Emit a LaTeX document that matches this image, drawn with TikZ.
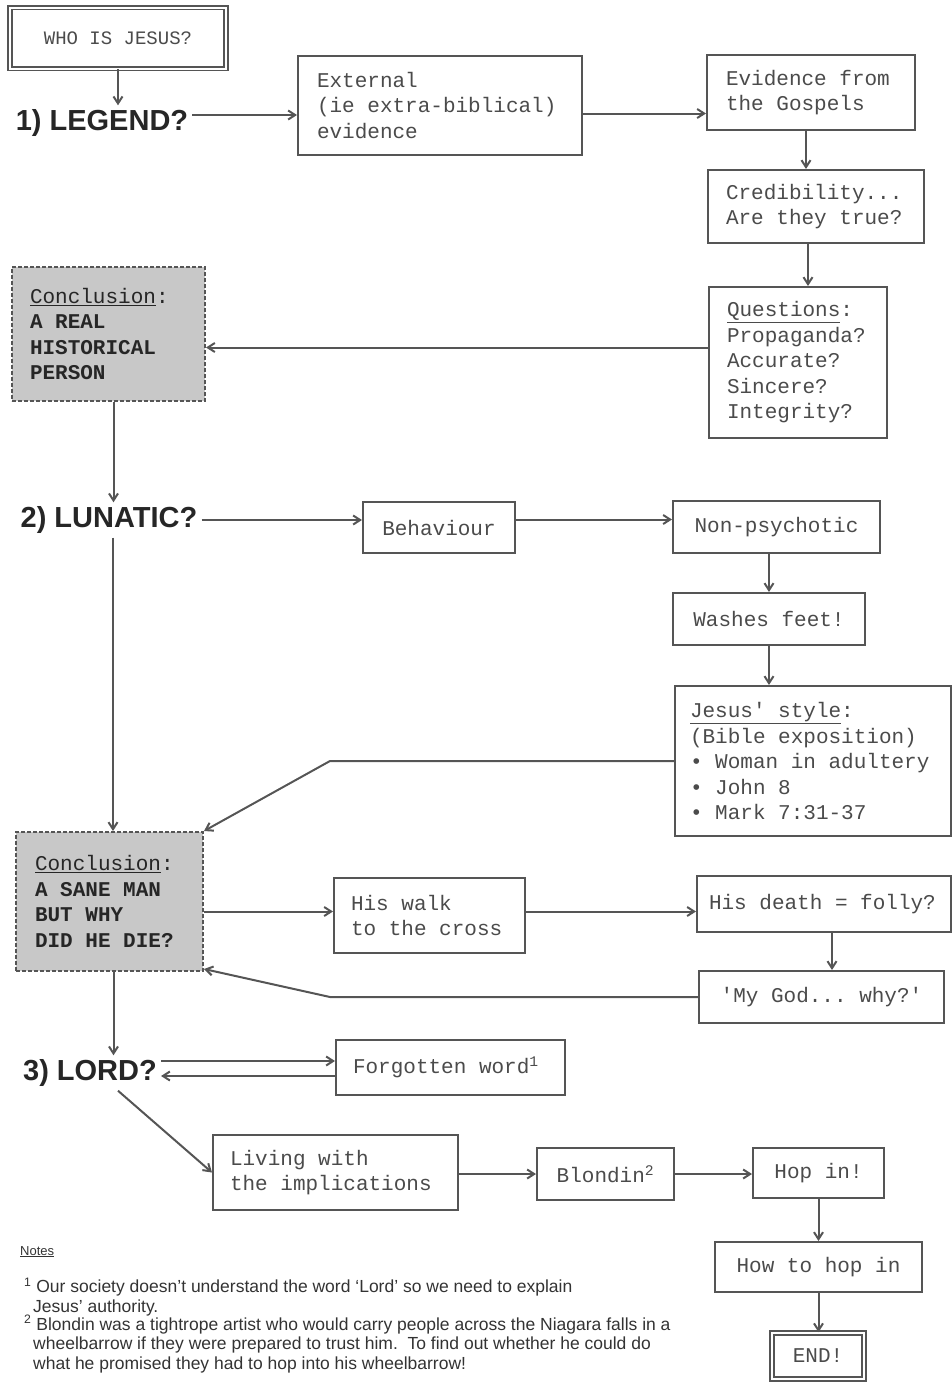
\documentclass[tikz,border=0pt]{standalone}
\usepackage{fontspec}
\setmainfont{Liberation Sans}
\setmonofont{Liberation Mono}
\usetikzlibrary{arrows.meta,positioning}
\definecolor{boxgrey}{RGB}{85,85,85}
\definecolor{conclfill}{RGB}{200,200,200}
\definecolor{inkgrey}{RGB}{75,75,75}
\newcommand\fixspace{\spaceskip=0.6em\relax\xspaceskip=0.6em\relax}

\begin{document}
\begin{tikzpicture}[x=1pt,y=-1pt,
  box/.style={draw=boxgrey, line width=2pt, fill=white, text=inkgrey,
    inner xsep=18pt, inner ysep=0pt, align=left,
    font=\ttfamily\fontsize{21}{25.5}\selectfont,
    execute at begin node=\fixspace},
  concl/.style={box, dash pattern=on 4pt off 2pt, fill=conclfill, text=black!85},
  dbox/.style={box, double=white, double distance=2pt, line width=1.6pt},
  stage/.style={font=\bfseries\fontsize{29}{30}\selectfont, text=black!85, inner sep=4pt},
  arr/.style={-{Straight Barb[length=7pt,width=9pt]}, draw=boxgrey, line width=2pt},
  note/.style={anchor=north west, align=left, inner sep=0pt, text=black!80,
    font=\fontsize{17.5}{19.5}\selectfont}]
  \useasboundingbox (0,0) rectangle (952,1382);

  % stage 1: legend
  \node[dbox, minimum width=216pt, minimum height=61pt, align=center,
        font=\ttfamily\fontsize{19}{22}\selectfont] (who) at (118,38) {WHO IS JESUS?};
  \node[stage] (legend) at (102,123) {1) LEGEND?};
  \node[box, minimum width=284pt, minimum height=99pt, text width=246pt] (ext) at (440,105.5)
    {External\\(ie extra-biblical)\\evidence};
  \node[box, minimum width=208pt, minimum height=75pt, text width=170pt] (gospels) at (811,92.5)
    {Evidence from\\the Gospels};
  \node[box, minimum width=216pt, minimum height=73pt, text width=180pt] (cred) at (816,206.5)
    {Credibility...\\Are they true?};
  \node[box, minimum width=178pt, minimum height=151pt, text width=142pt] (quest) at (798,362.5)
    {\underline{Questions}:\\Propaganda?\\Accurate?\\Sincere?\\Integrity?};
  \node[concl, minimum width=193pt, minimum height=134pt, text width=157pt] (concl1) at (108.5,334)
    {\underline{Conclusion}:\\\textbf{A REAL}\\\textbf{HISTORICAL}\\\textbf{PERSON}};

  % stage 2: lunatic
  \node[stage] (lunatic) at (109,520) {2) LUNATIC?};
  \node[box, minimum width=152pt, minimum height=51pt, align=center] (behav) at (439,527.5) {Behaviour};
  \node[box, minimum width=207pt, minimum height=52pt, align=center] (nonpsy) at (776.5,527) {Non-psychotic};
  \node[box, minimum width=192pt, minimum height=52pt, align=center] (washes) at (769,619) {Washes feet!};
  \node[box, minimum width=276pt, minimum height=150pt, text width=246pt, inner xsep=15pt] (jstyle) at (813,761)
    {\underline{Jesus' style}:\\(Bible exposition)\\• Woman in adultery\\• John 8\\• Mark 7:31-37};
  \node[concl, minimum width=187pt, minimum height=139pt, text width=149pt] (concl2) at (109.5,901.5)
    {\underline{Conclusion}:\\\textbf{A SANE MAN}\\\textbf{BUT WHY}\\\textbf{DID HE DIE?}};
  \node[box, minimum width=191pt, minimum height=75pt, text width=157pt, inner xsep=17pt] (walk) at (429.5,915.5)
    {His walk\\to the cross};
  \node[box, minimum width=254pt, minimum height=56pt, text width=230pt, inner xsep=12pt] (death) at (824,904)
    {His death = folly?};
  \node[box, minimum width=245pt, minimum height=52pt, align=center] (mygod) at (821.5,997) {'My God... why?'};

  % stage 3: lord
  \node[stage] (lord) at (90,1073) {3) LORD?};
  \node[box, minimum width=229pt, minimum height=55pt, text width=195pt, inner xsep=17pt] (forgot) at (450.5,1067.5)
    {Forgotten word\textsuperscript{1}};
  \node[box, minimum width=245pt, minimum height=75pt, text width=211pt, inner xsep=17pt] (living) at (335.5,1172.5)
    {Living with\\the implications};
  \node[box, minimum width=137pt, minimum height=52pt, align=center] (blondin) at (605.5,1174) {Blondin\textsuperscript{2}};
  \node[box, minimum width=131pt, minimum height=50pt, align=center] (hopin) at (818.5,1173) {Hop in!};
  \node[box, minimum width=207pt, minimum height=50pt, align=center] (howto) at (818.5,1267) {How to hop in};
  \node[dbox, minimum width=92pt, minimum height=46pt, align=center, inner xsep=6pt] (end) at (818,1356) {END!};

  % notes
  \node[note, font=\fontsize{13}{15}\selectfont] (notes) at (20,1246) {\underline{Notes}};
  \node[note] (note1) at (24,1278)
    {\textsuperscript{1} Our society doesn't understand the word `Lord' so we need to explain\\
     \hspace*{9pt}Jesus' authority.};
  \node[note] (note2) at (24,1315)
    {\textsuperscript{2} Blondin was a tightrope artist who would carry people across the Niagara falls in a\\
     \hspace*{9pt}wheelbarrow if they were prepared to trust him.\ \ To find out whether he could do\\
     \hspace*{9pt}what he promised they had to hop into his wheelbarrow!};

  \coordinate (bend1) at (330,759);
  \coordinate (bend2) at (330,1001);

  % connectors
  \draw[arr] (who.south) -- (who.south |- legend.north);
  \draw[arr] ([yshift=8pt]legend.east) -- ([yshift=8pt]legend.east -| ext.west);
  \draw[arr] ([yshift=-8pt]ext.east) -- ([yshift=-8pt]ext.east -| gospels.west);
  \draw[arr] ([xshift=-5pt]gospels.south) -- ([xshift=-5pt]gospels.south |- cred.north);
  \draw[arr] ([xshift=-8pt]cred.south) -- ([xshift=-8pt]cred.south |- quest.north);
  \draw[arr] ([yshift=15pt]quest.west) -- ([yshift=15pt]quest.west -| concl1.east);
  \draw[arr] ([xshift=5pt]concl1.south) -- ([xshift=5pt]concl1.south |- lunatic.north);
  \draw[arr] (lunatic.east) -- (lunatic.east -| behav.west);
  \draw[arr] ([yshift=8pt]behav.east) -- ([yshift=8pt]behav.east -| nonpsy.west);
  \draw[arr] (washes.north |- nonpsy.south) -- (washes.north);
  \draw[arr] (washes.south) -- (washes.south |- jstyle.north);
  \draw[arr] (jstyle.west) -- (bend1 |- jstyle.west) -- (concl2.north east);
  \draw[arr] ([xshift=4pt]lunatic.south) -- ([xshift=4pt]lunatic.south |- concl2.north);
  \draw[arr] ([yshift=-10pt]concl2.east) -- ([yshift=-10pt]concl2.east -| walk.west);
  \draw[arr] ([yshift=4pt]walk.east) -- ([yshift=4pt]walk.east -| death.west);
  \draw[arr] ([xshift=8pt]death.south) -- ([xshift=8pt]death.south |- mygod.north);
  \draw[arr] (mygod.west) -- (bend2 |- mygod.west) -- ([yshift=3pt]concl2.south east);
  \draw[arr] ([xshift=4pt]concl2.south) -- ([xshift=4pt]concl2.south |- lord.north);
  \draw[arr] ([yshift=12pt]lord.east) -- ([yshift=12pt]lord.east -| forgot.west);
  \draw[arr] ([yshift=-3pt]lord.east -| forgot.west) -- ([yshift=-3pt]lord.east);
  \draw[arr] ([xshift=28pt]lord.south) -- (living.west);
  \draw[arr] (blondin.west -| living.east) -- (blondin.west);
  \draw[arr] (blondin.east) -- (blondin.east -| hopin.west);
  \draw[arr] (hopin.south) -- (hopin.south |- howto.north);
  \draw[arr] (howto.south) -- (howto.south |- end.north);
\end{tikzpicture}
\end{document}
